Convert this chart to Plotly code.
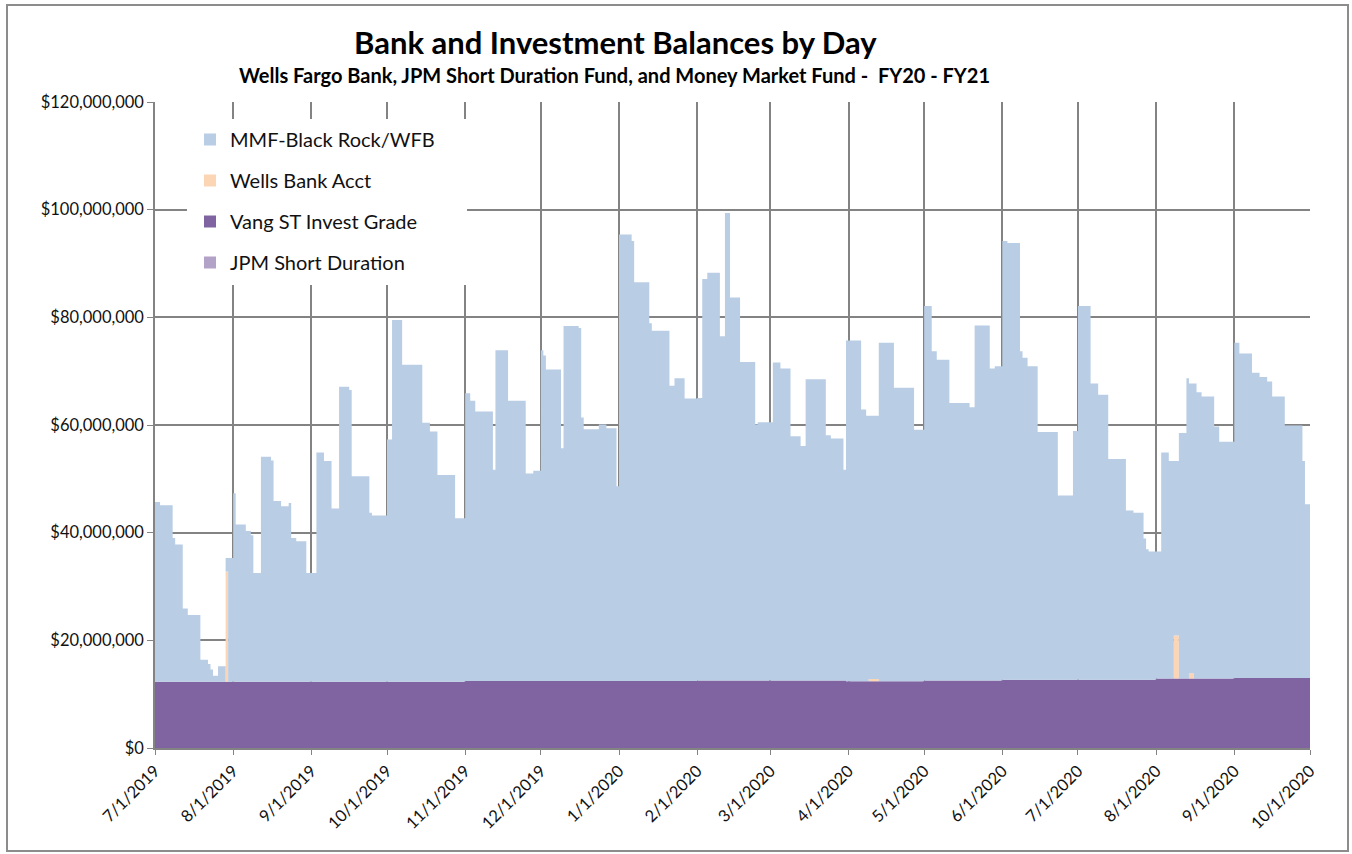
import plotly.graph_objects as go

# ---------------- data (values in $ millions) ----------------
dates = [
    "2019-07-01", "2019-07-03", "2019-07-08", "2019-07-09", "2019-07-12", "2019-07-14", "2019-07-19",
    "2019-07-22", "2019-07-23", "2019-07-24", "2019-07-26", "2019-07-29", "2019-07-30",
    "2019-08-01", "2019-08-02", "2019-08-06", "2019-08-08", "2019-08-09", "2019-08-12", "2019-08-16",
    "2019-08-17", "2019-08-20", "2019-08-23", "2019-08-24", "2019-08-26", "2019-08-30",
    "2019-09-03", "2019-09-06", "2019-09-09", "2019-09-12", "2019-09-16", "2019-09-17", "2019-09-24", "2019-09-25",
    "2019-10-01", "2019-10-03", "2019-10-07", "2019-10-15", "2019-10-18", "2019-10-21", "2019-10-28",
    "2019-11-01", "2019-11-03", "2019-11-05", "2019-11-12", "2019-11-13", "2019-11-18", "2019-11-25", "2019-11-28",
    "2019-12-01", "2019-12-02", "2019-12-03", "2019-12-09", "2019-12-10", "2019-12-16", "2019-12-17",
    "2019-12-18", "2019-12-24", "2019-12-27", "2019-12-31",
    "2020-01-01", "2020-01-06", "2020-01-07", "2020-01-13", "2020-01-14", "2020-01-21", "2020-01-23", "2020-01-27",
    "2020-02-01", "2020-02-03", "2020-02-05", "2020-02-10", "2020-02-12", "2020-02-14", "2020-02-18",
    "2020-02-24", "2020-02-25",
    "2020-03-02", "2020-03-05", "2020-03-09", "2020-03-13", "2020-03-15", "2020-03-23", "2020-03-25",
    "2020-03-30", "2020-03-31",
    "2020-04-06", "2020-04-08", "2020-04-09", "2020-04-13", "2020-04-19", "2020-04-27",
    "2020-05-01", "2020-05-04", "2020-05-06", "2020-05-11", "2020-05-19", "2020-05-21", "2020-05-27", "2020-05-29",
    "2020-06-01", "2020-06-03", "2020-06-08", "2020-06-09", "2020-06-11", "2020-06-15", "2020-06-23", "2020-06-29",
    "2020-07-01", "2020-07-06", "2020-07-09", "2020-07-13", "2020-07-20", "2020-07-23", "2020-07-27",
    "2020-07-28", "2020-07-29",
    "2020-08-01", "2020-08-03", "2020-08-06", "2020-08-08", "2020-08-10", "2020-08-13", "2020-08-14",
    "2020-08-16", "2020-08-17", "2020-08-19", "2020-08-24", "2020-08-26",
    "2020-09-01", "2020-09-03", "2020-09-08", "2020-09-11", "2020-09-14", "2020-09-16", "2020-09-21",
    "2020-09-28", "2020-09-29",
    "2020-10-01",
]

mmf = [
    33.4, 32.8, 26.7, 25.5, 13.6, 12.4, 4.1, 3.3, 2.3, 1.1, 2.9, 2.5, 23.0,
    35.0, 29.2, 28.0, 27.2, 20.2, 41.8, 41.1, 33.6, 32.6, 33.2, 26.7, 26.1, 20.2,
    42.6, 41.0, 32.2, 54.8, 54.2, 38.2, 31.4, 30.9,
    45.0, 67.2, 58.9, 48.1, 46.5, 38.4, 30.4,
    53.45, 52.05, 50.05, 39.25, 61.45, 52.05, 38.55, 39.05,
    61.45, 60.45, 57.85, 43.25, 65.95, 65.55, 48.95, 46.75, 47.65, 46.95, 36.15,
    82.95, 81.75, 74.05, 66.45, 65.05, 54.85, 56.25, 52.45,
    52.45, 74.55, 75.75, 63.95, 86.85, 71.15, 59.15, 47.55, 47.95,
    59.05, 57.95, 45.35, 43.55, 55.95, 45.55, 44.95, 39.15, 63.3,
    50.5, 49.3, 48.9, 62.9, 54.5, 46.7,
    69.55, 61.15, 59.55, 51.55, 50.75, 65.95, 57.95, 58.35,
    81.5, 81.1, 61.0, 59.8, 58.2, 46.0, 34.2, 46.2,
    69.4, 55.0, 52.9, 41.0, 31.4, 31.0, 26.2, 24.2, 23.8,
    23.6, 42.0, 40.4, 32.4, 45.6, 55.8, 53.8, 54.8, 53.2, 52.4, 46.8, 44.0,
    62.3, 60.3, 56.7, 55.9, 55.1, 52.3, 46.9, 40.3, 32.3,
    32.3,
]

wells = [
    0, 0, 0, 0, 0, 0, 0, 0, 0, 0, 0, 20.5, 0,
    0, 0, 0, 0, 0, 0, 0, 0, 0, 0, 0, 0, 0,
    0, 0, 0, 0, 0, 0, 0, 0,
    0, 0, 0, 0, 0, 0, 0,
    0, 0, 0, 0, 0, 0, 0, 0,
    0, 0, 0, 0, 0, 0, 0, 0, 0, 0, 0,
    0, 0, 0, 0, 0, 0, 0, 0,
    0, 0, 0, 0, 0, 0, 0, 0, 0,
    0, 0, 0, 0, 0, 0, 0, 0, 0,
    0, 0, 0.4, 0, 0, 0,
    0, 0, 0, 0, 0, 0, 0, 0,
    0, 0, 0, 0, 0, 0, 0, 0,
    0, 0, 0, 0, 0, 0, 0, 0, 0,
    0, 0, 0, 8.0, 0, 0, 1.0, 0, 0, 0, 0, 0,
    0, 0, 0, 0, 0, 0, 0, 0, 0,
    0,
]

vang = [
    12.3, 12.3, 12.3, 12.3, 12.3, 12.3, 12.3, 12.3, 12.3, 12.3, 12.3, 12.3, 12.3,
    12.3, 12.3, 12.3, 12.3, 12.3, 12.3, 12.3, 12.3, 12.3, 12.3, 12.3, 12.3, 12.3,
    12.3, 12.3, 12.3, 12.3, 12.3, 12.3, 12.3, 12.3,
    12.3, 12.3, 12.3, 12.3, 12.3, 12.3, 12.3,
    12.45, 12.45, 12.45, 12.45, 12.45, 12.45, 12.45, 12.45,
    12.45, 12.45, 12.45, 12.45, 12.45, 12.45, 12.45, 12.45, 12.45, 12.45, 12.45,
    12.45, 12.45, 12.45, 12.45, 12.45, 12.45, 12.45, 12.45,
    12.55, 12.55, 12.55, 12.55, 12.55, 12.55, 12.55, 12.55, 12.55,
    12.55, 12.55, 12.55, 12.55, 12.55, 12.55, 12.55, 12.55, 12.4,
    12.4, 12.4, 12.4, 12.4, 12.4, 12.4,
    12.55, 12.55, 12.55, 12.55, 12.55, 12.55, 12.55, 12.55,
    12.7, 12.7, 12.7, 12.7, 12.7, 12.7, 12.7, 12.7,
    12.7, 12.7, 12.7, 12.7, 12.7, 12.7, 12.7, 12.7, 12.7,
    12.9, 12.9, 12.9, 12.9, 12.9, 12.9, 12.9, 12.9, 12.9, 12.9, 12.9, 12.9,
    13.0, 13.0, 13.0, 13.0, 13.0, 13.0, 13.0, 13.0, 13.0,
    13.0,
]

jpm_dates = ["2019-07-01", "2020-10-01"]
jpm = [0, 0]

tick_dates = ["2019-07-01", "2019-08-01", "2019-09-01", "2019-10-01", "2019-11-01", "2019-12-01",
              "2020-01-01", "2020-02-01", "2020-03-01", "2020-04-01", "2020-05-01", "2020-06-01",
              "2020-07-01", "2020-08-01", "2020-09-01", "2020-10-01"]
tick_labels = ["7/1/2019", "8/1/2019", "9/1/2019", "10/1/2019", "11/1/2019", "12/1/2019",
               "1/1/2020", "2/1/2020", "3/1/2020", "4/1/2020", "5/1/2020", "6/1/2020",
               "7/1/2020", "8/1/2020", "9/1/2020", "10/1/2020"]

series_names = ["MMF-Black Rock/WFB", "Wells Bank Acct", "Vang ST Invest Grade", "JPM Short Duration"]
colors = {"MMF-Black Rock/WFB": "#B9CDE5", "Wells Bank Acct": "#FCD5B5",
          "Vang ST Invest Grade": "#8064A2", "JPM Short Duration": "#B3A2C7"}

# ---------------- layout geometry (pixels) ----------------
W, H = 1352, 854
PL, PR, PT, PB = 155, 1310, 102, 748


def px(x):
    return (x - PL) / (PR - PL)


def py(y):
    return (PB - y) / (PB - PT)


M = 1e6
fig = go.Figure()

# stacked areas (bottom first)
fig.add_trace(go.Scatter(x=jpm_dates, y=[v * M for v in jpm], name="JPM Short Duration",
                         mode="lines", line=dict(width=0, shape="hv"), stackgroup="s",
                         fillcolor=colors["JPM Short Duration"], showlegend=False, hoverinfo="skip"))
fig.add_trace(go.Scatter(x=dates, y=[v * M for v in vang], name="Vang ST Invest Grade",
                         mode="lines", line=dict(width=0, shape="hv"), stackgroup="s",
                         fillcolor=colors["Vang ST Invest Grade"], showlegend=False))
fig.add_trace(go.Scatter(x=dates, y=[v * M for v in wells], name="Wells Bank Acct",
                         mode="lines", line=dict(width=0, shape="hv"), stackgroup="s",
                         fillcolor=colors["Wells Bank Acct"], showlegend=False))
fig.add_trace(go.Scatter(x=dates, y=[v * M for v in mmf], name="MMF-Black Rock/WFB",
                         mode="lines", line=dict(width=0, shape="hv"), stackgroup="s",
                         fillcolor=colors["MMF-Black Rock/WFB"], showlegend=False))

# legend proxies (square swatches)
for rank, name in enumerate(series_names):
    fig.add_trace(go.Bar(x=[dates[0]], y=[0], name=name, marker=dict(color=colors[name], line=dict(width=0)),
                         legendrank=rank + 1, legendgroup=name, showlegend=True, hoverinfo="skip"))

shapes = [
    # legend white box (covers gridlines, no data underneath)
    dict(type="rect", xref="paper", yref="paper", x0=px(187), x1=px(467), y0=py(285), y1=py(119),
         fillcolor="white", line=dict(width=0), layer="above"),
    # outer chart border
    dict(type="rect", xref="paper", yref="paper", x0=px(7), x1=px(1348), y0=py(851), y1=py(5),
         fillcolor="rgba(0,0,0,0)", line=dict(color="#8C8C8C", width=2), layer="above"),
]

grid = "#838383"
fig.update_layout(
    width=W, height=H,
    margin=dict(l=PL, r=W - PR, t=PT, b=H - PB),
    paper_bgcolor="white", plot_bgcolor="white",
    font=dict(family="Lato, 'Open Sans', sans-serif", color="#000000"),
    showlegend=True,
    barmode="overlay",
    legend=dict(x=px(190), y=py(120), xanchor="left", yanchor="top",
                bgcolor="rgba(0,0,0,0)", font=dict(size=20, color="#111111"),
                tracegroupgap=12, itemwidth=30),
    xaxis=dict(type="date", range=["2019-07-01", "2020-10-01"], tickmode="array",
               tickvals=tick_dates, ticktext=tick_labels, tickangle=-45,
               tickfont=dict(size=16.5, color="#111111"), showgrid=True, gridcolor=grid, gridwidth=1.5,
               showline=True, linecolor=grid, linewidth=1.5, ticks="outside", ticklen=5,
               tickcolor=grid, zeroline=False, layer="below traces"),
    yaxis=dict(range=[0, 120e6], dtick=20e6, tick0=0, tickformat="$,.0f",
               tickfont=dict(size=16.5, color="#111111"), showgrid=True, gridcolor=grid, gridwidth=1.5,
               showline=True, linecolor=grid, linewidth=1.5, ticks="outside", ticklen=6,
               tickcolor=grid, zeroline=False, layer="below traces"),
    shapes=shapes,
    annotations=[
        dict(text="<b>Bank and Investment Balances by Day</b>", xref="paper", yref="paper",
             x=px(615), y=py(42), xanchor="center", yanchor="middle", showarrow=False,
             font=dict(size=31, color="#000000")),
        dict(text="<b>Wells Fargo Bank, JPM Short Duration Fund, and Money Market Fund -  FY20 - FY21</b>",
             xref="paper", yref="paper", x=px(614), y=py(75), xanchor="center", yanchor="middle",
             showarrow=False, font=dict(size=20, color="#000000")),
    ],
)

fig.write_html("out.html")
